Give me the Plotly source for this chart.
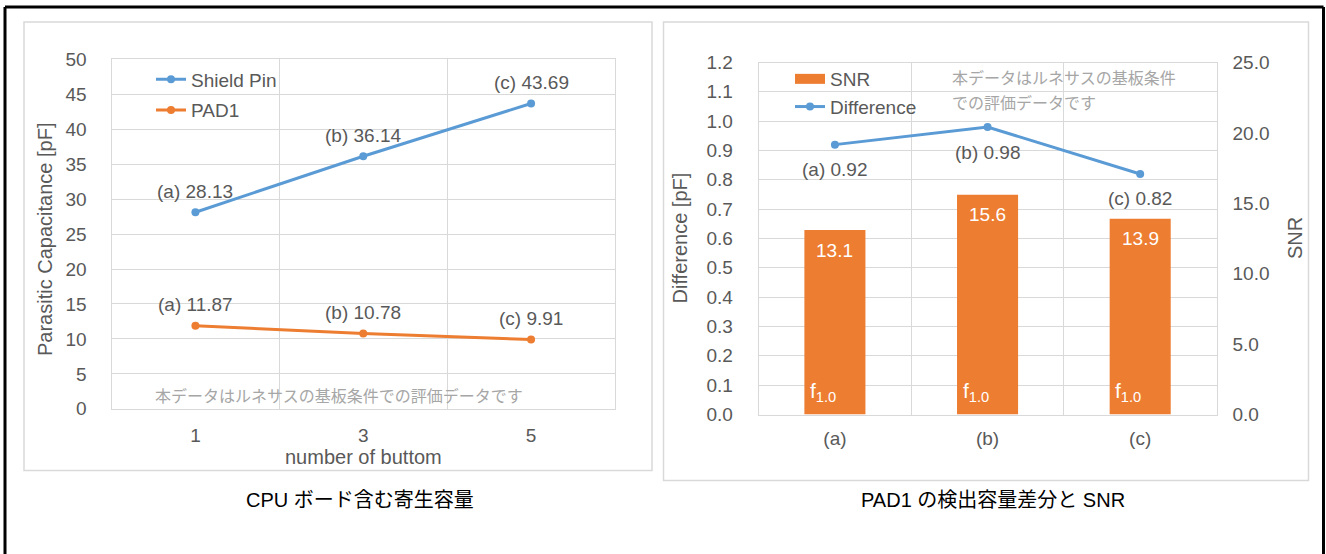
import plotly.graph_objects as go

# ---------------- data ----------------
buttons = ["1", "3", "5"]
shield_pin = [28.13, 36.14, 43.69]
pad1 = [11.87, 10.78, 9.91]
point_tags = ["(a)", "(b)", "(c)"]

cases = ["(a)", "(b)", "(c)"]
snr = [13.1, 15.6, 13.9]
difference = [0.92, 0.98, 0.82]
freq_sub = ["1.0", "1.0", "1.0"]

left_title = "CPU ボード含む寄生容量"
right_title = "PAD1 の検出容量差分と SNR"
note_text = "本データはルネサスの基板条件での評価データです"
note_lines = ["本データはルネサスの基板条件", "での評価データです"]

# ---------------- style ----------------
W, H = 1326, 554
BLUE = "#5B9BD5"
ORANGE = "#ED7D31"
GRID = "#D9D9D9"
TXT = "#595959"
FONT = "Liberation Sans, Arial, Noto Sans CJK JP, sans-serif"
JFONT = "Noto Sans CJK JP, sans-serif"


def px(x):
    return x / W


def py(y):
    return 1 - y / H


fig = go.Figure()

# ---- left chart ----
fig.add_trace(go.Scatter(x=buttons, y=shield_pin, name="Shield Pin", mode="lines+markers",
                         line=dict(color=BLUE, width=3), marker=dict(size=8, color=BLUE),
                         xaxis="x", yaxis="y", legend="legend", legendgroup="g1"))
fig.add_trace(go.Scatter(x=buttons, y=pad1, name="PAD1", mode="lines+markers",
                         line=dict(color=ORANGE, width=3), marker=dict(size=8, color=ORANGE),
                         xaxis="x", yaxis="y", legend="legend", legendgroup="g2"))

# ---- right chart ----
fig.add_trace(go.Bar(x=cases, y=snr, name="SNR", marker=dict(color=ORANGE, line=dict(width=0)),
                     width=0.4, xaxis="x2", yaxis="y2", showlegend=False))
# legend entry for SNR (wide rectangle like the original)
fig.add_trace(go.Scatter(x=[None], y=[None], name="SNR", mode="lines",
                         line=dict(color=ORANGE, width=10), xaxis="x2", yaxis="y2",
                         legend="legend2", legendgroup="h1"))
fig.add_trace(go.Scatter(x=cases, y=difference, name="Difference", mode="lines+markers",
                         line=dict(color=BLUE, width=3), marker=dict(size=8, color=BLUE),
                         xaxis="x2", yaxis="y3", legend="legend2", legendgroup="h2"))

axis_common = dict(showgrid=True, gridcolor=GRID, gridwidth=1, showline=True, linecolor=GRID,
                   linewidth=1, mirror=True, zeroline=False, ticks="", automargin=False,
                   tickfont=dict(family=FONT, size=19, color=TXT))

fig.update_layout(
    width=W, height=H, autosize=False,
    margin=dict(l=0, r=0, t=0, b=0, pad=0, autoexpand=False),
    paper_bgcolor="white", plot_bgcolor="white",
    font=dict(family=FONT, color=TXT),
    xaxis=dict(domain=[px(111.5), px(615)], type="category", categoryorder="array",
               categoryarray=buttons, range=[-0.5, 2.5], tickson="boundaries",
               ticklabelstandoff=9, **axis_common),
    yaxis=dict(domain=[py(408.8), py(59.4)], range=[0, 50], dtick=5,
               ticklabelstandoff=20, **axis_common),
    xaxis2=dict(domain=[px(758.6), px(1216.5)], type="category", categoryorder="array",
                categoryarray=cases, range=[-0.5, 2.5], tickson="boundaries", ticklabelstandoff=7,
                anchor="y2", **axis_common),
    yaxis2=dict(domain=[py(414.5), py(62.5)], range=[0, 25], dtick=5, tickformat=".1f",
                side="right", anchor="x2", showgrid=False, zeroline=False, showline=False,
                ticks="", automargin=False, ticklabelstandoff=15,
                tickfont=dict(family=FONT, size=19, color=TXT)),
    yaxis3=dict(range=[0, 1.2], dtick=0.1, tickformat=".1f", overlaying="y2", side="left",
                anchor="x2", ticklabelstandoff=21, **axis_common),
    legend=dict(x=px(151), y=py(60.5), xanchor="left", yanchor="top", bgcolor="rgba(0,0,0,0)",
                font=dict(family=FONT, size=19, color=TXT), traceorder="grouped",
                tracegroupgap=3, itemwidth=30),
    legend2=dict(x=px(790), y=py(60), xanchor="left", yanchor="top", bgcolor="rgba(0,0,0,0)",
                 font=dict(family=FONT, size=19, color=TXT), traceorder="grouped",
                 tracegroupgap=0, itemwidth=30),
    bargap=0.6,
)


def note(x, y, text, size, color, family=FONT, angle=0, xanchor="center"):
    return dict(x=px(x), y=py(y), xref="paper", yref="paper", text=text, textangle=angle,
                xanchor=xanchor, yanchor="middle", showarrow=False,
                font=dict(family=family, size=size, color=color))


ann = []
# data labels, left chart (x given as category index)
for series in (shield_pin, pad1):
    for i, (tag, v) in enumerate(zip(point_tags, series)):
        ann.append(dict(x=i, y=v, xref="x", yref="y", text=f"{tag} {v:.2f}", showarrow=False,
                        xanchor="center", yanchor="middle",
                        yshift=21, font=dict(family=FONT, size=19, color=TXT)))
# data labels, right chart - difference line
for i, (tag, v) in enumerate(zip(point_tags, difference)):
    ann.append(dict(x=i, y=v, xref="x2", yref="y3", text=f"{tag} {v:.2f}", showarrow=False,
                    xanchor="center", yanchor="middle",
                    yshift=-25, font=dict(family=FONT, size=19, color=TXT)))
# bar labels
for i, (v, sub) in enumerate(zip(snr, freq_sub)):
    ann.append(dict(x=i, y=v, xref="x2", yref="y2", text=f"{v:.1f}", showarrow=False,
                    xanchor="center", yanchor="middle",
                    yshift=-20, font=dict(family=FONT, size=19, color="white")))
    ann.append(dict(x=i, y=0, xref="x2", yref="y2", text=f"f<sub>{sub}</sub>", showarrow=False,
                    xanchor="left", yanchor="bottom", xshift=-27, yshift=8,
                    font=dict(family=FONT, size=21, color="white")))

# axis titles
ann += [
    note(45, 240, "Parasitic Capacitance [pF]", 20, TXT, angle=-90),
    note(363, 457, "number of buttom", 20, TXT),
    note(679, 238.5, "Difference [pF]", 20, TXT, angle=-90),
    note(1295, 238, "SNR", 20, TXT, angle=-90),
]
# notes
ann.append(note(153, 395, note_text, 16, "#A6A6A6", family=JFONT, xanchor="left"))
for i, line in enumerate(note_lines):
    ann.append(note(950, 77 + 25 * i, line, 16, "#A6A6A6", family=JFONT, xanchor="left"))
# captions
ann.append(note(360, 500, left_title, 20, "black"))
ann.append(note(993, 500, right_title, 20, "black"))
fig.update_layout(annotations=ann)

# frames
shapes = [
    dict(type="rect", xref="paper", yref="paper", x0=px(24), x1=px(652), y0=py(470.5), y1=py(22),
         line=dict(color=GRID, width=1.5)),
    dict(type="rect", xref="paper", yref="paper", x0=px(663.5), x1=px(1308.5), y0=py(480.5), y1=py(22),
         line=dict(color=GRID, width=1.5)),
    dict(type="line", xref="paper", yref="paper", x0=px(5), x1=px(1323.5), y0=py(7), y1=py(7),
         line=dict(color="black", width=3)),
    dict(type="line", xref="paper", yref="paper", x0=px(5), x1=px(5), y0=py(7), y1=0,
         line=dict(color="black", width=3)),
    dict(type="line", xref="paper", yref="paper", x0=px(1323.5), x1=px(1323.5), y0=py(7), y1=0,
         line=dict(color="black", width=3)),
]
fig.update_layout(shapes=shapes)

fig.write_html("out.html", config={"displayModeBar": False},
               post_script="document.body.style.margin='0px';document.body.style.overflow='hidden';")
